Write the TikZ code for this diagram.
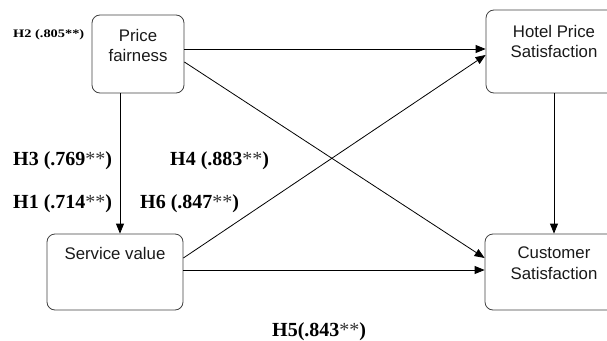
\documentclass[tikz,border=0pt]{standalone}
\usepackage{fontspec}
\setmainfont{Liberation Serif}
\newfontfamily\arialf{Liberation Sans}
\usetikzlibrary{arrows.meta}
\newcommand{\stars}{{\mdseries\color{black!80}**}}
\begin{document}
\begin{tikzpicture}[x=1pt,y=-1pt,
  box/.style={draw=black!75,line width=0.8pt,rounded corners=8pt,rectangle,inner sep=0pt},
  boxtext/.style={font=\arialf\fontsize{16.8}{20.5}\selectfont,align=center,anchor=north,inner sep=0pt,text=black!90},
  hlabel/.style={font=\bfseries\fontsize{20}{22}\selectfont,anchor=base west,inner sep=0pt},
  conn/.style={draw=black,line width=0.8pt,-{Triangle[length=10pt,width=8pt]}}]
\useasboundingbox (0,0) rectangle (607,340);
\clip (0,0) rectangle (607,340);
\node[box,minimum width=92pt,minimum height=78pt] (pf) at (138,54) {};
\node[box,minimum width=136pt,minimum height=83pt] (hp) at (554,51.5) {};
\node[box,minimum width=136pt,minimum height=76pt] (sv) at (115,272) {};
\node[box,minimum width=138pt,minimum height=76pt] (cs) at (554,272) {};
\node[boxtext] (pft) at (138,29) {Price\\fairness};
\node[boxtext] (hpt) at (554,25) {Hotel Price\\Satisfaction};
\node[boxtext] (svt) at (115,247) {Service value};
\node[boxtext] (cst) at (554,247) {Customer\\Satisfaction};
\draw[conn] ([yshift=5pt]pf.east) -- ([yshift=2.5pt]hp.west);
\draw[conn] ([yshift=-8pt]pf.east) -- ([yshift=14pt]cs.west);
\draw[conn] ([xshift=-18pt]pf.south) -- ([xshift=5pt]sv.north);
\draw[conn] ([yshift=14pt]sv.east) -- ([yshift=-3.5pt]hp.west);
\draw[conn] ([yshift=2pt]sv.east) -- ([yshift=2pt]cs.west);
\draw[conn] (hp.south) -- (cs.north);
\node[anchor=base west,inner sep=0pt,font=\bfseries\fontsize{11.5}{13}\selectfont] (h2) at (13,37) {\scalebox{1.25}[1]{H2 (.805**)}};
\node[hlabel] (h3) at (13,165) {H3 (.769\stars)};
\node[hlabel] (h4) at (170,165) {H4 (.883\stars)};
\node[hlabel] (h1) at (13,208) {H1 (.714\stars)};
\node[hlabel] (h6) at (140,208) {H6 (.847\stars)};
\node[hlabel] (h5) at (272,336) {H5(.843\stars)};
\end{tikzpicture}
\end{document}
